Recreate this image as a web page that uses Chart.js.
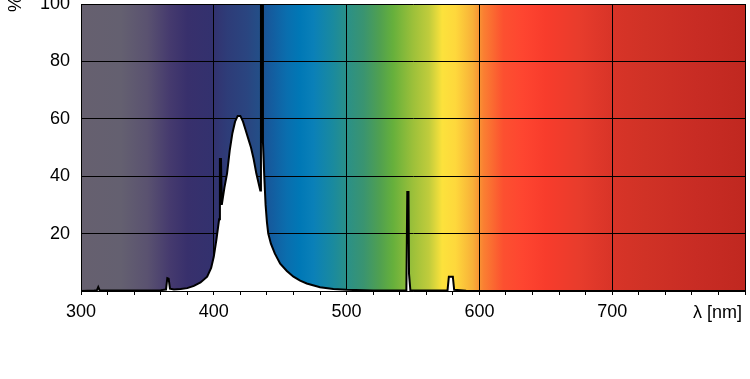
<!DOCTYPE html>
<html>
<head>
<meta charset="utf-8">
<script src="https://cdn.jsdelivr.net/npm/chart.js@4/dist/chart.umd.min.js"></script>
<style>
	html, body { margin: 0; padding: 0; background: #fff; }
	#chart { display: block; }
</style>
</head>
<body>
<canvas id="chart" width="750" height="379"></canvas>
<script>
/* data */
const wavelengths = [
	300, 310, 312, 313, 314, 320, 340, 360, 364, 365, 366, 367, 370, 375, 380, 385, 390, 395, 398,
	400, 402, 404, 404.6, 405.4, 406, 408, 410, 412, 414, 416, 418, 420, 422, 424, 426, 428, 430, 432, 434, 435,
	435.5, 436.5, 437, 438, 439, 440, 441, 443, 446, 450, 455, 460, 465, 470, 480, 490, 500, 520,
	545, 545.7, 546.6, 547, 548, 576, 577, 580, 581, 590, 600, 800
];
const intensity = [
	0, 0.2, 0.3, 1.4, 0.3, 0.2, 0.2, 0.3, 0.5, 4.5, 4.3, 0.8, 0.5, 0.7, 1.0, 1.8, 3.0, 5.0, 8,
	12, 18, 25, 46, 46, 30, 36, 41, 49, 55, 59, 61, 61, 59, 56, 53, 50, 46, 41, 37, 35,
	105, 105, 52, 40, 30, 24, 20, 16.5, 13, 9.5, 7, 5, 3.6, 2.6, 1.3, 0.7, 0.4, 0.2,
	0.2, 34.5, 34.5, 6, 0.3, 0.2, 5, 5, 0.4, 0.1, 0, 0
];
const xTicksMajor = [300, 400, 500, 600, 700];
const xAxisLabel = 'λ [nm]';
const yAxisLabel = '%';

/* spectrum background, colour stops by wavelength */
const spectrumStops = [
	[300, '#66606f'], [330, '#646070'], [350, '#5a5270'], [367, '#453a6e'], [380, '#38306c'],
	[398, '#33316e'], [410, '#2e3c78'], [425, '#2a4580'], [435, '#234f88'], [440, '#17579a'],
	[455, '#0a6eae'], [465, '#0078b6'], [475, '#0a80b8'], [490, '#1a8a9e'], [500, '#2a9088'],
	[513, '#3a9470'], [525, '#50a050'], [535, '#66b03c'], [550, '#9cc03a'], [562, '#c0cc3c'],
	[572, '#fce23c'], [582, '#fed83c'], [595, '#f8b038'], [603, '#fa8032'], [618, '#fc5030'],
	[633, '#fe4530'], [650, '#f83c2c'], [675, '#e83c2c'], [700, '#d83428'], [725, '#d03226'],
	[763, '#c82c24'], [800, '#c02820']
];

const FONT = { family: '"Liberation Sans", Arial, sans-serif', size: 18 };

const spectrumBackground = {
	id: 'spectrumBackground',
	beforeDraw(chart) {
		const { ctx, chartArea, scales } = chart;
		const x0 = scales.x.getPixelForValue(300);
		const x1 = scales.x.getPixelForValue(800);
		const grad = ctx.createLinearGradient(x0, 0, x1, 0);
		spectrumStops.forEach(([nm, color]) => {
			grad.addColorStop((nm - 300) / 500, color);
		});
		ctx.save();
		ctx.fillStyle = grad;
		ctx.fillRect(chartArea.left, chartArea.top, chartArea.right - chartArea.left, chartArea.bottom - chartArea.top);
		ctx.restore();
	},
	afterDraw(chart) {
		const { ctx, chartArea, scales } = chart;
		ctx.save();
		ctx.fillStyle = '#000';
		ctx.font = `${FONT.size}px ${FONT.family}`;
		// x unit in place of the last tick label
		ctx.textAlign = 'right';
		ctx.textBaseline = 'middle';
		ctx.fillText(xAxisLabel, chartArea.right - 3, scales.x.top + 22);
		// y unit, rotated, at the top left
		ctx.translate(16, 4);
		ctx.rotate(-Math.PI / 2);
		ctx.textAlign = 'center';
		ctx.fillText(yAxisLabel, 0, 0);
		ctx.restore();
	}
};

const chart = new Chart(document.getElementById('chart'), {
	type: 'line',
	data: {
		datasets: [{
			data: wavelengths.map((nm, i) => ({ x: nm, y: intensity[i] })),
			borderColor: '#000',
			borderWidth: 2,
			backgroundColor: '#fff',
			fill: 'origin',
			pointRadius: 0,
			tension: 0,
		}]
	},
	options: {
		responsive: false,
		animation: false,
		devicePixelRatio: 1,
		layout: {
			padding: { top: 4, right: 5, left: 0, bottom: 0 },
		},
		plugins: {
			legend: { display: false },
			tooltip: { enabled: false },
		},
		scales: {
			x: {
				type: 'linear',
				min: 300,
				max: 800,
				border: { color: '#000', width: 1 },
				grid: {
					color: (c) => (c.tick && c.tick.value % 100 === 0 ? '#000' : 'rgba(0,0,0,0)'),
					tickColor: '#000',
					tickLength: 4,
					lineWidth: 1,
				},
				ticks: {
					stepSize: 20,
					autoSkip: false,
					maxRotation: 0,
					color: '#000',
					font: FONT,
					padding: 6,
					callback: (v) => (xTicksMajor.includes(v) ? String(v) : ''),
				},
				afterFit: (scale) => { scale.height = 88; scale.paddingLeft = 0; scale.paddingRight = 0; },
			},
			y: {
				min: 0,
				max: 100,
				border: { color: '#000', width: 1 },
				grid: {
					color: '#000',
					lineWidth: 1,
					drawTicks: false,
				},
				ticks: {
					stepSize: 20,
					color: '#000',
					font: FONT,
					padding: 11,
					callback: (v) => (v === 0 ? '' : String(v)),
				},
				afterFit: (scale) => { scale.width = 81; scale.paddingTop = 0; scale.paddingBottom = 0; },
			},
		},
	},
	plugins: [spectrumBackground],
});
</script>
</body>
</html>
